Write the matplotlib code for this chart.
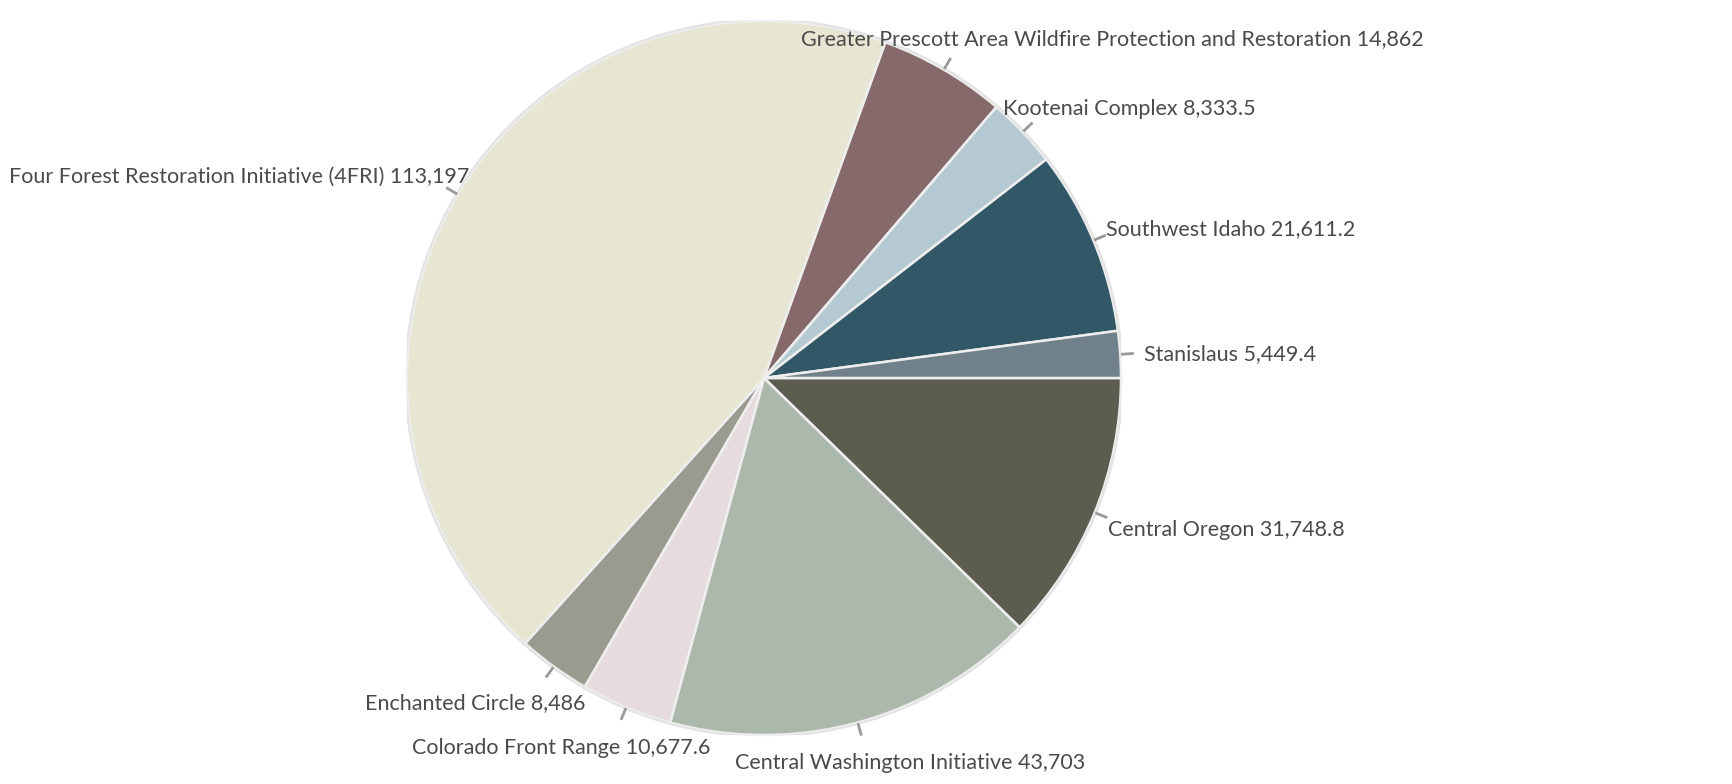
import matplotlib.pyplot as plt
import numpy as np

# Data (clockwise from 3 o'clock, alphabetical as in the source chart)
names = [
    "Central Oregon",
    "Central Washington Initiative",
    "Colorado Front Range",
    "Enchanted Circle",
    "Four Forest Restoration Initiative (4FRI)",
    "Greater Prescott Area Wildfire Protection and Restoration",
    "Kootenai Complex",
    "Southwest Idaho",
    "Stanislaus",
]
values = [31748.8, 43703, 10677.6, 8486, 113197, 14862, 8333.5, 21611.2, 5449.4]
colors = ["#5c5d4f", "#adb8ad", "#e6dcdd", "#9a9a90", "#e6e6d3",
          "#866a6b", "#b5c9d2", "#325767", "#71818c"]

# Label layout: text offset from tick end (pixels, y up) and horizontal alignment
label_offsets = [(2, -13), (-126, -29), (89, -29), (39, -27), (22, 11),
                 (-149, 20), (-28, 15), (1, 7), (12, -1)]
label_ha = ["left", "left", "right", "right", "right", "left", "left", "left", "left"]


def fmt(v):
    s = f"{v:,.1f}"
    return s[:-2] if s.endswith(".0") else s


W, H, DPI = 1733, 784, 100
cx, cy, r_px = 764, 784 - 378, 357

fig = plt.figure(figsize=(W / DPI, H / DPI), dpi=DPI)
ax = fig.add_axes([(cx - r_px) / W, (cy - r_px) / H, 2 * r_px / W, 2 * r_px / H])

wedges, _ = ax.pie(values, colors=colors, startangle=0, counterclock=False, radius=1,
                   wedgeprops=dict(edgecolor="#eeeeee", linewidth=1.8))
ax.add_patch(plt.Circle((0, 0), 1.004, fill=False, edgecolor="#e4e4e4", linewidth=1.6))
ax.set_xlim(-1, 1)
ax.set_ylim(-1, 1)
ax.axis("off")

tick_len = 10 / r_px
for w, name, v, off, ha in zip(wedges, names, values, label_offsets, label_ha):
    mid = np.deg2rad((w.theta1 + w.theta2) / 2)
    x0, y0 = np.cos(mid) * 1.006, np.sin(mid) * 1.006
    x1, y1 = np.cos(mid) * (1.006 + tick_len), np.sin(mid) * (1.006 + tick_len)
    ax.plot([x0, x1], [y0, y1], color="#999999", linewidth=2, clip_on=False)
    ax.annotate(f"{name} {fmt(v)}", xy=(x1, y1), xytext=off, textcoords="offset pixels",
                ha=ha, va="center", fontsize=15.5, color="#4a4a4a", family="Lato",
                annotation_clip=False)

fig.savefig("out.png", dpi=DPI, facecolor="white")
